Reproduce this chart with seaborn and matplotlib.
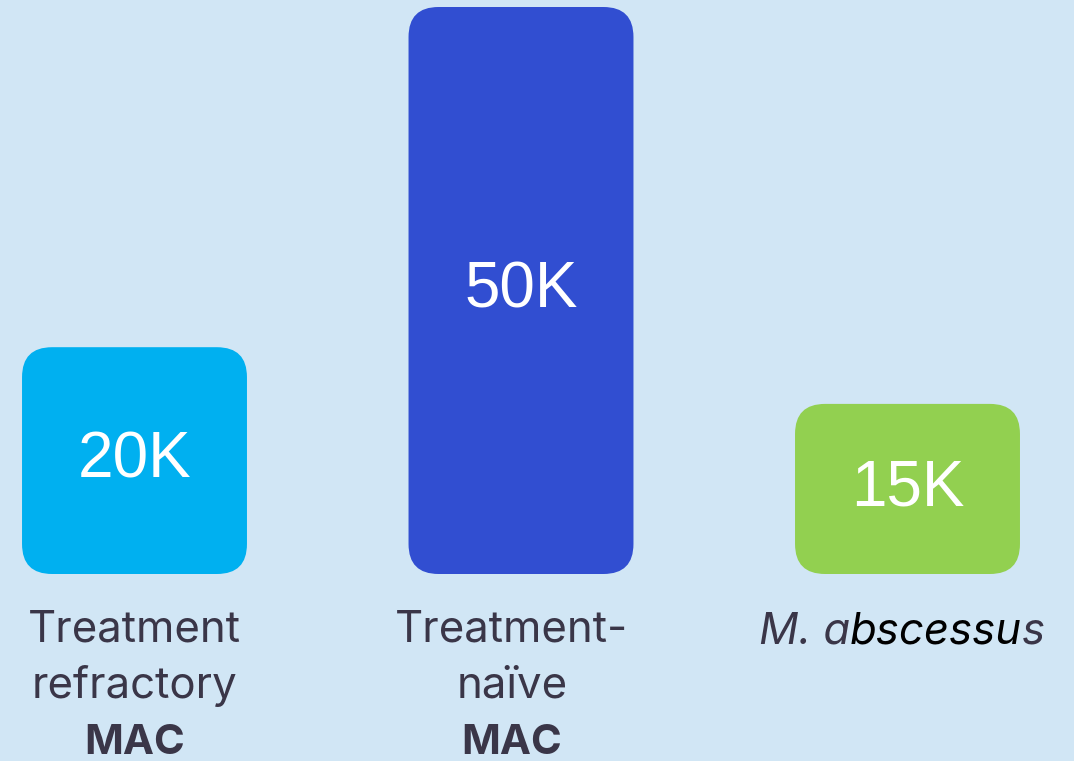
import matplotlib
matplotlib.use("Agg")
import matplotlib.pyplot as plt
import seaborn as sns
from matplotlib.patches import FancyBboxPatch
from matplotlib.transforms import IdentityTransform

# Patient populations (thousands)
categories = ["Treatment refractory MAC", "Treatment-naïve MAC", "M. abscessus"]
values = [20, 50, 15]
bar_colors = ["#00B0F0", "#314ED1", "#92D050"]
label_lines = [["Treatment", "refractory"], ["Treatment-", "naïve"], []]
bold_lines = ["MAC", "MAC", None]
# Species name split into coloured runs
species_runs = [("M. a", "#3A3648"), ("bscessu", "black"), ("s", "#3A3648")]

BG = "#D1E6F5"
TEXT = "#3A3648"

sns.set_theme(style="white")
plt.rcParams["font.family"] = ["Inter", "DejaVu Sans"]

W, H, DPI = 1074, 761, 100
fig = plt.figure(figsize=(W / DPI, H / DPI), dpi=DPI, facecolor=BG)
ax = fig.add_axes([0, 0, 1, 1])
ax.set_facecolor(BG)

sns.barplot(x=categories, y=values, hue=categories, palette=bar_colors,
            width=0.582, legend=False, ax=ax, saturation=1)

px_per_k = 567 / 50
ax.set_xlim(-134.5 / 386.5, 2 + (W - 907.5) / 386.5)
ax.set_ylim(-187 / px_per_k, 50 + 7 / px_per_k)
ax.set_axis_off()

# Swap the square bars for rounded ones drawn at the same screen extents
fig.canvas.draw()
for patch, color in zip(list(ax.patches), bar_colors):
    x0, y0 = patch.get_x(), patch.get_y()
    x1, y1 = x0 + patch.get_width(), y0 + patch.get_height()
    (px0, py0), (px1, py1) = ax.transData.transform([(x0, y0), (x1, y1)])
    patch.set_visible(False)
    rounded = FancyBboxPatch((px0, py0), px1 - px0, py1 - py0,
                             boxstyle="round,pad=0,rounding_size=30",
                             facecolor=color, edgecolor="none",
                             transform=IdentityTransform(), zorder=2,
                             clip_on=False)
    ax.add_artist(rounded)

# Value labels centred in each bar
for i, v in enumerate(values):
    ax.text(i, v / 2, f"{v}K", ha="center", va="center", color="white",
            fontsize=46, family=["Liberation Sans", "DejaVu Sans"], zorder=5)

# Category labels under the bars
label_dx = [0, -0.024, 0]  # small nudges in axis units

def ypix(y_top):
    return 1 - y_top / H

xt = ax.get_xaxis_transform()
for i, lines in enumerate(label_lines):
    for j, line in enumerate(lines):
        ax.text(i + label_dx[i], ypix(641 + 57 * j), line, transform=xt,
                ha="center", va="baseline", fontsize=31.5, color=TEXT)
    if bold_lines[i]:
        ax.text(i + label_dx[i], ypix(754), bold_lines[i], transform=xt,
                ha="center", va="baseline", fontsize=30, color=TEXT,
                fontweight="bold")

# Species name in italics, laid out run by run around its centre
renderer = fig.canvas.get_renderer()
sp_kw = dict(fontsize=31.5, style="italic", va="baseline", ha="left")

def width_of(s):
    t = fig.text(0, 0, s, **sp_kw)
    w = t.get_window_extent(renderer).width
    t.remove()
    return w

full_text = "".join(r for r, _ in species_runs)
left = 902 - width_of(full_text) / 2
offset = 0.0
for run, color in species_runs:
    fig.text((left + width_of(full_text[:0]) + offset) / W, ypix(643), run,
             color=color, zorder=6, **sp_kw)
    offset = width_of(full_text[:full_text.index(run) + len(run)])

fig.savefig("out.png", dpi=DPI, facecolor=BG)
